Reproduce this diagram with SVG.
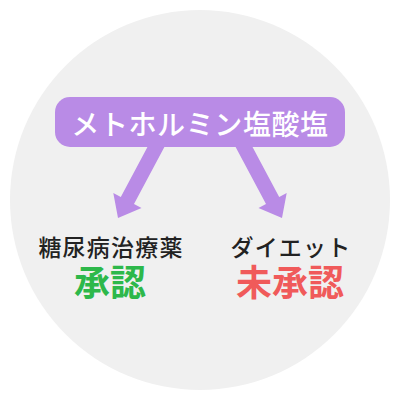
<svg xmlns="http://www.w3.org/2000/svg" width="400" height="400" viewBox="0 0 400 400">
<style>
.t{font-family:"Noto Sans CJK JP","Noto Sans",sans-serif;text-anchor:middle}
.lab{font-size:23px;fill:#222;font-weight:500}
.big{font-size:36px;font-weight:700}
.arrow{fill:#b98be6}
</style>
<rect width="400" height="400" fill="#ffffff"/>
<circle cx="200" cy="200" r="190" fill="#f0f0f0"/>
<g id="connectors">
<polygon class="arrow" points="156,130.9 169.2,137.9 134,203.9 141.5,207.9 118,218 113.3,192.9 120.8,196.9"/>
<polygon class="arrow" points="244,130.9 230.8,137.9 266,203.9 258.5,207.9 282,218 286.7,192.9 279.2,196.9"/>
</g>
<g id="metformin">
<rect x="55" y="97" width="290" height="50" rx="15" fill="#b98be6"/>
<text class="t" x="200" y="135" font-size="28" fill="#ffffff" font-weight="500" letter-spacing="0.6">メトホルミン塩酸塩</text>
</g>
<g id="diabetes">
<text class="t lab" x="111" y="256" letter-spacing="1.2">糖尿病治療薬</text>
<text class="t big" x="110" y="296" fill="#2db84a">承認</text>
</g>
<g id="diet">
<text class="t lab" x="291" y="256" letter-spacing="1.2">ダイエット</text>
<text class="t big" x="290" y="296" fill="#f05a5a">未承認</text>
</g>
</svg>
